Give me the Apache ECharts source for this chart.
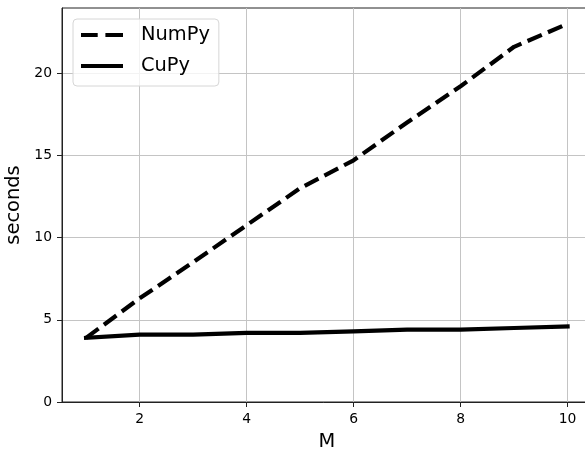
<!DOCTYPE html>
<html>
<head>
<meta charset="utf-8">
<script src="https://cdn.jsdelivr.net/npm/echarts@6/dist/echarts.min.js"></script>
<style>
html,body{margin:0;padding:0;background:#fff;}
#c{width:585px;height:452px;}
</style>
</head>
<body>
<div id="c"></div>
<script>
const mValues = [1, 2, 3, 4, 5, 6, 7, 8, 9, 10];
const numpySeconds = [3.9, 6.3, 8.5, 10.75, 13.0, 14.7, 17.0, 19.2, 21.6, 23.0];
const cupySeconds = [3.9, 4.1, 4.1, 4.2, 4.2, 4.3, 4.4, 4.4, 4.5, 4.6];
const xTicks = [2, 4, 6, 8, 10];
const yTicks = [0, 5, 10, 15, 20];

const font = 'DejaVu Sans';
const dashedIcon = 'path://M0,0h16.7v4.2h-16.7z M24.4,0h17.6v4.2h-17.6z';
const solidIcon = 'path://M0,0h42v4.2h-42z';
const chart = echarts.init(document.getElementById('c'), null, {renderer: 'canvas'});
chart.setOption({
  animation: false,
  backgroundColor: '#fff',
  grid: {left: 62, top: 8, right: -6.65, bottom: 50, outerBoundsMode: 'none', containLabel: false,
         show: true, borderColor: '#222', borderWidth: 1, backgroundColor: 'transparent'},
  legend: {
    left: 73, top: 19, orient: 'vertical',
    itemWidth: 42, itemHeight: 4.2, itemGap: 11, symbolKeepAspect: true,
    padding: [6, 9, 10, 8],
    backgroundColor: 'rgba(255,255,255,0.8)',
    borderColor: '#d6d6d6', borderWidth: 1, borderRadius: 4,
    textStyle: {fontFamily: font, fontSize: 19.4, color: '#000', padding: [0, 0, 0, 13], lineHeight: 20},
    data: [{name: 'NumPy', icon: dashedIcon}, {name: 'CuPy', icon: solidIcon}]
  },
  xAxis: {
    type: 'value', min: 0.55, max: 10.45,
    name: 'M', nameLocation: 'middle', nameGap: 30,
    nameTextStyle: {fontFamily: font, fontSize: 19.4, color: '#000'},
    axisLine: {show: true, onZero: false, lineStyle: {color: '#222', width: 1}},
    axisTick: {show: true, length: 5, customValues: xTicks, lineStyle: {color: '#222', width: 1}},
    axisLabel: {customValues: xTicks, margin: 10, fontFamily: font, fontSize: 13.9, color: '#000'},
    splitLine: {show: true, lineStyle: {color: '#c4c4c4', width: 1}}
  },
  yAxis: {
    type: 'value', min: 0, max: 23.96, interval: 5,
    name: 'seconds', nameLocation: 'middle', nameGap: 35, nameRotate: 90,
    nameTextStyle: {fontFamily: font, fontSize: 19.4, color: '#000'},
    axisLine: {show: true, lineStyle: {color: '#222', width: 1}},
    axisTick: {show: true, length: 5, customValues: yTicks, lineStyle: {color: '#222', width: 1}},
    axisLabel: {customValues: yTicks, margin: 10, fontFamily: font, fontSize: 13.9, color: '#000'},
    splitLine: {show: true, lineStyle: {color: '#c4c4c4', width: 1}}
  },
  series: [
    {
      name: 'NumPy', type: 'line', symbol: 'none',
      data: mValues.map((m, i) => [m, numpySeconds[i]]),
      lineStyle: {color: '#000', width: 4.2, type: [15.5, 6.7], cap: 'butt', join: 'round'},
      itemStyle: {color: '#000'}
    },
    {
      name: 'CuPy', type: 'line', symbol: 'none',
      data: mValues.map((m, i) => [m, cupySeconds[i]]),
      lineStyle: {color: '#000', width: 4.2, type: 'solid', cap: 'square', join: 'round'},
      itemStyle: {color: '#000'}
    }
  ]
});
</script>
</body>
</html>
